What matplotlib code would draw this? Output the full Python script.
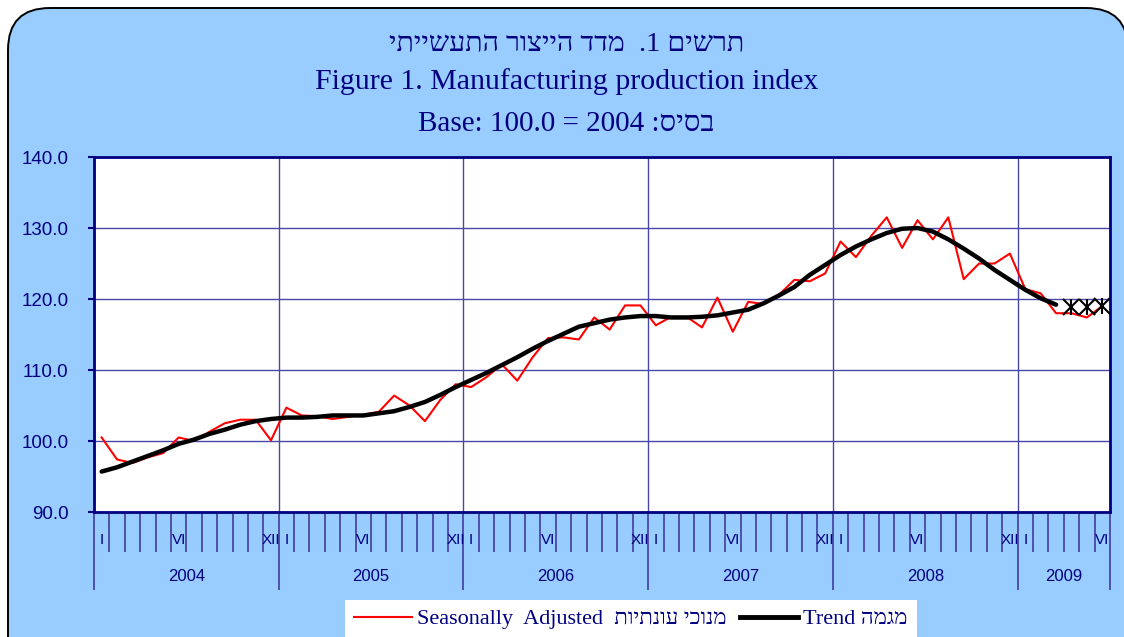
import re
import matplotlib
matplotlib.use("Agg")
import matplotlib.pyplot as plt
from matplotlib.patches import FancyBboxPatch
from matplotlib.lines import Line2D
from matplotlib.ticker import FixedLocator, FormatStrFormatter

# monthly values, Jan 2004 .. Jun 2009
seasonally_adjusted = [
    100.5, 97.4, 96.9, 97.7, 98.3, 100.5, 100.0, 101.3, 102.5, 103.0, 103.0, 100.1,
    104.7, 103.6, 103.5, 103.1, 103.4, 103.7, 104.1, 106.4, 105.0, 102.8, 105.8, 108.0,
    107.6, 109.0, 110.8, 108.5, 111.8, 114.5, 114.6, 114.3, 117.4, 115.7, 119.1, 119.1,
    116.3, 117.5, 117.5, 116.0, 120.2, 115.4, 119.6, 119.3, 120.6, 122.7, 122.5, 123.6,
    128.1, 125.9, 128.9, 131.5, 127.2, 131.1, 128.4, 131.5, 122.8, 125.0, 125.0, 126.4,
    121.4, 120.8, 118.0, 118.0, 117.4, 119.0,
]
trend = [
    95.7, 96.3, 97.1, 97.9, 98.7, 99.6, 100.2, 101.0, 101.6, 102.3, 102.8, 103.1,
    103.3, 103.3, 103.4, 103.6, 103.6, 103.6, 103.9, 104.2, 104.8, 105.5, 106.5, 107.6,
    108.6, 109.6, 110.7, 111.8, 113.0, 114.1, 115.1, 116.1, 116.6, 117.1, 117.4, 117.6,
    117.6, 117.4, 117.4, 117.5, 117.7, 118.1, 118.5, 119.4, 120.5, 121.7, 123.4, 124.8,
    126.2, 127.4, 128.4, 129.3, 129.9, 130.0, 129.5, 128.4, 127.1, 125.7, 124.1, 122.7,
    121.3, 120.1, 119.2,
]
# last three trend months are shown only as markers
trend_tail = [118.9, 118.9, 119.0]

years = ["2004", "2005", "2006", "2007", "2008", "2009"]
months_in_year = [12, 12, 12, 12, 12, 6]
month_marks = {0: "I", 5: "VI", 11: "XII"}
y_ticks = [90, 100, 110, 120, 130, 140]


def rtl(s):
    # matplotlib has no bidi support: put hebrew runs in visual order
    out = s[::-1]
    return re.sub(r"[0-9]+", lambda m: m.group(0)[::-1], out)


title_he = rtl("תרשים 1.  מדד הייצור התעשייתי")
title_en = "Figure 1. Manufacturing production index"
title_base = "Base: 100.0 = 2004 :" + rtl("בסיס")
label_sa = "Seasonally  Adjusted  " + rtl("מנוכי עונתיות")
label_trend = "Trend " + rtl("מגמה")

navy = "#000080"
grid_col = "#4848A8"
bg_blue = "#99CCFF"
serif = ["Liberation Serif", "DejaVu Sans"]
sans = ["Liberation Sans", "DejaVu Sans"]

fig = plt.figure(figsize=(11.24, 6.37), dpi=100, facecolor="white")

# rounded light-blue panel behind everything
panel = FancyBboxPatch((0.08, -0.5), 11.2, 6.79,
                       boxstyle="round,pad=0,rounding_size=0.42",
                       transform=fig.dpi_scale_trans, facecolor=bg_blue,
                       edgecolor="black", linewidth=1.4, zorder=-10)
fig.patches.append(panel)

ax = fig.add_axes([0.0836, 0.1962, 0.9039, 0.5573])
ax.set_facecolor("white")

x_sa = [i + 0.5 for i in range(len(seasonally_adjusted))]
x_tr = [i + 0.5 for i in range(len(trend))]
x_tail = [len(trend) + i + 0.5 for i in range(len(trend_tail))]

ax.plot(x_sa, seasonally_adjusted, color="#FF0000", lw=1.5, zorder=3)
ax.plot(x_tr, trend, color="black", lw=3.2, solid_capstyle="round", zorder=4)
# excel-style star marker: an x crossed by a vertical bar
for mk in ("x", "|"):
    ax.plot(x_tail, trend_tail, ls="none", marker=mk, ms=12, mew=1.5,
            color="black", zorder=5, clip_on=False)

n_months = sum(months_in_year)
year_bounds = [0]
for m in months_in_year:
    year_bounds.append(year_bounds[-1] + m)

ax.set_xlim(0, n_months)
ax.set_ylim(90, 140)
ax.xaxis.set_major_locator(FixedLocator(year_bounds))
ax.xaxis.set_minor_locator(FixedLocator(range(n_months + 1)))
ax.tick_params(axis="x", which="major", length=56, width=1.3, color=grid_col,
               labelbottom=False, direction="out")
ax.tick_params(axis="x", which="minor", length=29, width=1.3, color=grid_col,
               direction="out")

ax.set_yticks(y_ticks)
ax.yaxis.set_major_formatter(FormatStrFormatter("%.1f"))
ax.tick_params(axis="y", length=4.5, width=1.5, color=navy, pad=14,
               labelsize=13.5, labelcolor=navy)
for lab in ax.get_yticklabels():
    lab.set_family(sans)

ax.grid(True, which="major", color=grid_col, lw=1)
ax.set_axisbelow(True)
for sp in ax.spines.values():
    sp.set_color(navy)
    sp.set_linewidth(2)

# month and year labels under the axis
tr = ax.get_xaxis_transform()
for k, yr in enumerate(years):
    start = year_bounds[k]
    for m, txt in month_marks.items():
        if m < months_in_year[k]:
            ax.text(start + m + 0.5, -0.079, txt, transform=tr, ha="center",
                    va="center", fontsize=11, color=navy, family=sans)
    ax.text(start + months_in_year[k] / 2, -0.183, yr, transform=tr,
            ha="center", va="center", fontsize=12, color=navy, family=sans)

# titles
fig.text(0.504, 0.932, title_he, ha="center", va="center", fontsize=20.5,
         color=navy, family=serif)
fig.text(0.504, 0.872, title_en, ha="center", va="center", fontsize=21.5,
         color=navy, family=serif)
fig.text(0.504, 0.806, title_base, ha="center", va="center", fontsize=21,
         color=navy, family=serif)

handles = [Line2D([], [], color="#FF0000", lw=1.5),
           Line2D([], [], color="black", lw=3.5)]
leg = fig.legend(handles, [label_sa, label_trend], loc="upper left",
                 bbox_to_anchor=(345 / 1124, 37 / 637), ncol=2,
                 frameon=True, facecolor="white", edgecolor="none",
                 fancybox=False, framealpha=1, borderaxespad=0,
                 handlelength=2.6, handletextpad=0.25, columnspacing=0.6,
                 prop={"family": serif, "size": 16}, labelcolor=navy)

fig.savefig("out.png", dpi=100, facecolor=fig.get_facecolor())
